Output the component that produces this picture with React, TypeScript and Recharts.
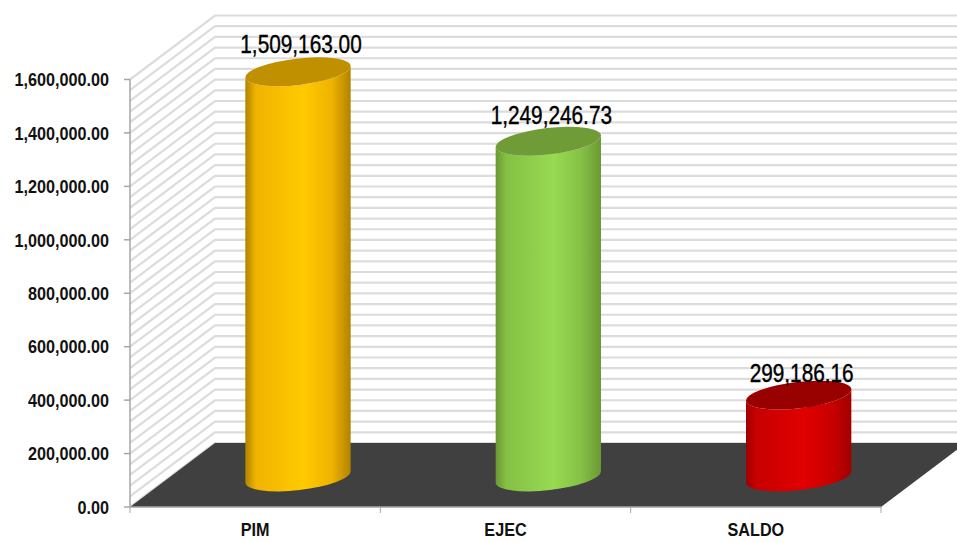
import React from "react";
import { ComposedChart, Bar, XAxis, YAxis, ReferenceLine, LabelList } from "recharts";

const categories = ["PIM", "EJEC", "SALDO"];
const values = [1509163.0, 1249246.73, 299186.16];
const yTicks = [0, 200000, 400000, 600000, 800000, 1000000, 1200000, 1400000, 1600000];
const gridValues = [
  0, 40000, 80000, 120000, 160000, 200000, 240000, 280000, 320000, 360000, 400000,
  440000, 480000, 520000, 560000, 600000, 640000, 680000, 720000, 760000, 800000,
  840000, 880000, 920000, 960000, 1000000, 1040000, 1080000, 1120000, 1160000, 1200000,
  1240000, 1280000, 1320000, 1360000, 1400000, 1440000, 1480000, 1520000, 1560000, 1600000,
];
const palettes = [
  { edge: "#b08300", shade: "#f0b300", mid: "#ffca00", top: "#c09000" },
  { edge: "#6a9835", shade: "#84c044", mid: "#98da52", top: "#6f9c37" },
  { edge: "#a00000", shade: "#c80000", mid: "#e00000", top: "#990000" },
];
const labelGaps = [26, 24, 20];

const FONT = "'Liberation Sans', Arial, sans-serif";
const DEPTH_X = 85;
const DEPTH_Y = 64;
const CYL_X = 43;
const CYL_TOP = 32;
const CYL_BOTTOM = 30;
const RY = 13.2;
const TILT = 6.5;

const data = categories.map((name, i) => ({ name, value: values[i] }));
const fmt = (v: number) =>
  v.toLocaleString("en-US", { minimumFractionDigits: 2, maximumFractionDigits: 2 });

function GridShape(props: any) {
  const { x1, y1, x2 } = props;
  return (
    <g>
      <defs>
        <filter id="soft" filterUnits="userSpaceOnUse" x="0" y="0" width="957" height="542">
          <feGaussianBlur stdDeviation="0.5" />
        </filter>
      </defs>
      <polyline
        points={`${x1},${y1} ${x1 + DEPTH_X},${y1 - DEPTH_Y} ${x2 + DEPTH_X},${y1 - DEPTH_Y}`}
        fill="none"
        stroke="#dcdcdc"
        strokeWidth={2.2}
        filter="url(#soft)"
      />
    </g>
  );
}

function FloorShape(props: any) {
  const { x1, y1, x2 } = props;
  const band = (x2 - x1) / categories.length;
  const ticks = categories.concat("").map((_, i) => x1 + band * i);
  return (
    <g>
      <polygon
        points={`${x1},${y1} ${x2},${y1} ${x2 + DEPTH_X},${y1 - DEPTH_Y} ${x1 + DEPTH_X},${y1 - DEPTH_Y}`}
        fill="#404040"
      />
      <line x1={x1} y1={y1} x2={x2} y2={y1} stroke="#a6a6a6" strokeWidth={1.5} />
      {ticks.map((t) => (
        <line key={t} x1={t} y1={y1} x2={t} y2={y1 + 6} stroke="#a6a6a6" strokeWidth={1} />
      ))}
    </g>
  );
}

function Cylinder(props: any) {
  const { x, y, width, height, index } = props;
  const cx = x + width / 2 + CYL_X;
  const rx = width / 2;
  const topY = y - CYL_TOP;
  const botY = y + height - CYL_BOTTOM;
  const rad = (TILT * Math.PI) / 180;
  const ex = rx * Math.cos(rad);
  const ey = rx * Math.sin(rad);
  const p = palettes[index];
  const id = `cyl${index}`;
  const body =
    `M${cx - ex},${topY + ey} L${cx - ex},${botY + ey} ` +
    `A${rx},${RY} ${-TILT} 0 0 ${cx + ex},${botY - ey} ` +
    `L${cx + ex},${topY - ey} A${rx},${RY} ${-TILT} 0 1 ${cx - ex},${topY + ey} Z`;
  return (
    <g>
      <defs>
        <linearGradient id={id} x1="0" x2="1" y1="0" y2="0">
          <stop offset="0" stopColor={p.edge} />
          <stop offset="0.1" stopColor={p.shade} />
          <stop offset="0.55" stopColor={p.mid} />
          <stop offset="0.82" stopColor={p.shade} />
          <stop offset="1" stopColor={p.edge} />
        </linearGradient>
      </defs>
      <path d={body} fill={`url(#${id})`} />
      <ellipse
        cx={cx}
        cy={topY}
        rx={rx}
        ry={RY}
        fill={p.top}
        transform={`rotate(${-TILT} ${cx} ${topY})`}
      />
    </g>
  );
}

function ValueLabel(props: any) {
  const { x, y, width, value, index } = props;
  const tx = x + width / 2 + CYL_X + 3;
  const ty = y - CYL_TOP - labelGaps[index];
  return (
    <text
      transform={`translate(${tx} ${ty}) scale(0.8 1)`}
      textAnchor="middle"
      dominantBaseline="middle"
      fontFamily={FONT}
      fontSize={26}
      fill="#000"
      stroke="#000"
      strokeWidth={0.4}
    >
      {fmt(value)}
    </text>
  );
}

function YTick(props: any) {
  const { x, y, payload } = props;
  return (
    <text
      transform={`translate(${x - 13} ${y + 2}) scale(0.9 1)`}
      textAnchor="end"
      dominantBaseline="middle"
      fontFamily={FONT}
      fontSize={18}
      fontWeight={700}
      fill="#111"
    >
      {fmt(payload.value)}
    </text>
  );
}

function XTick(props: any) {
  const { x, payload } = props;
  return (
    <text
      transform={`translate(${x} 531) scale(0.9 1)`}
      textAnchor="middle"
      dominantBaseline="middle"
      fontFamily={FONT}
      fontSize={18}
      fontWeight={700}
      fill="#111"
    >
      {payload.value}
    </text>
  );
}

export default function App() {
  return (
    <div style={{ position: "absolute", left: 0, top: 0, width: 957, height: 542, background: "#fff" }}>
      <ComposedChart
        width={957}
        height={542}
        data={data}
        margin={{ top: 79.5, right: 76, bottom: 0, left: 0 }}
      >
        <XAxis dataKey="name" height={35} tickLine={false} axisLine={false} interval={0} tick={XTick} />
        <YAxis
          width={130}
          domain={[0, 1600000]}
          ticks={yTicks}
          interval={0}
          stroke="#a6a6a6"
          strokeWidth={1.5}
          tickSize={6}
          tick={YTick}
        />
        {gridValues.map((v) => (
          <ReferenceLine key={v} y={v} shape={GridShape} zIndex={-60} />
        ))}
        <ReferenceLine y={0} shape={FloorShape} zIndex={-50} />
        <Bar dataKey="value" barSize={106} isAnimationActive={false} shape={Cylinder}>
          <LabelList dataKey="value" content={ValueLabel} />
        </Bar>
      </ComposedChart>
    </div>
  );
}
